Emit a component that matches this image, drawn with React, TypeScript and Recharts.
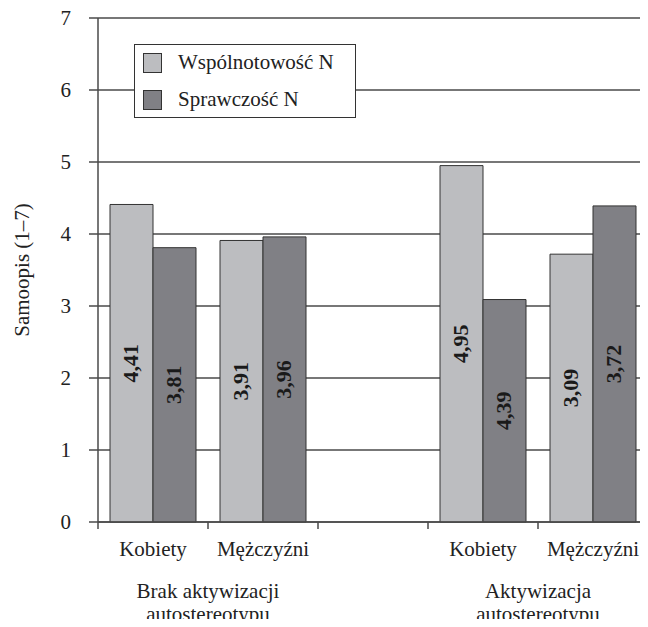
import React from 'react';
import { BarChart, Bar, XAxis, YAxis, CartesianGrid, Legend, LabelList } from 'recharts';

const categories = ['Kobiety', 'Mężczyźni', '', 'Kobiety', 'Mężczyźni'];
const groupLabels: (string[] | null)[] = [null, ['Brak aktywizacji', 'autostereotypu'], null, null, ['Aktywizacja', 'autostereotypu']];
const wspolnotowosc = [4.41, 3.91, null, 4.95, 3.72];
const sprawczosc = [3.81, 3.96, null, 3.09, 4.39];
const wspolLabels = ['4,41', '3,91', '', '4,95', '3,09'];
const sprawLabels = ['3,81', '3,96', '', '4,39', '3,72'];
const yTicks = [0, 1, 2, 3, 4, 5, 6, 7];
const seriesNames = ['Wspólnotowość N', 'Sprawczość N'];

const FONT = 'serif';
const FS = 21;
const W = 648;
const H = 627;
const PLOT_LEFT = 98;
const LIGHT = '#bcbdc0';
const DARK = '#808085';
const LINE = '#4a4a4a';

const data = categories.map((c, i) => ({
  name: c,
  w: wspolnotowosc[i],
  s: sprawczosc[i],
  wl: wspolLabels[i],
  sl: sprawLabels[i],
}));

const bandW = (W - PLOT_LEFT) / categories.length;

const XTick = (p: any) => {
  const g = groupLabels[p.index];
  const bx = p.x - bandW / 2;
  return (
    <g>
      <line x1={bx} x2={bx} y1={p.y} y2={p.y + 7} stroke={LINE} strokeWidth={1.5} />
      <text x={p.x} y={p.y + 34} textAnchor="middle" fontFamily={FONT} fontSize={FS} fill="#222">
        {p.payload.value}
      </text>
      {g && g.map((t, k) => (
        <text key={k} x={bx} y={p.y + 76 + k * 23} textAnchor="middle" fontFamily={FONT} fontSize={FS} fill="#222">
          {t}
        </text>
      ))}
    </g>
  );
};

const BarLabel = (props: any) => {
  const { x, y, width, height, value } = props;
  if (!value) return null;
  const cx = x + width / 2;
  const cy = y + height / 2;
  return (
    <text
      x={cx}
      y={cy + 7}
      transform={`rotate(-90 ${cx} ${cy})`}
      textAnchor="middle"
      fontFamily={FONT}
      fontWeight="bold"
      fontSize={22}
      fill="#1a1a1a"
    >
      {value}
    </text>
  );
};

const LegendBox = () => (
  <div
    style={{
      width: 222,
      height: 74,
      boxSizing: 'border-box',
      border: '1.5px solid #333',
      background: '#fff',
      position: 'relative',
      fontFamily: FONT,
      fontSize: FS,
      color: '#222',
    }}
  >
    {seriesNames.map((n, i) => (
      <div key={n} style={{ position: 'absolute', left: 8, top: 7 + i * 37, height: 21, display: 'flex', alignItems: 'center' }}>
        <div style={{ width: 19, height: 20, boxSizing: 'border-box', border: '1px solid #333', background: i === 0 ? LIGHT : DARK }} />
        <span style={{ marginLeft: 16, lineHeight: '21px', whiteSpace: 'nowrap' }}>{n}</span>
      </div>
    ))}
  </div>
);

const YLabel = (p: any) => {
  const vb = p.viewBox || { y: 18, height: 504 };
  const cx = 22;
  const cy = vb.y + vb.height / 2;
  return (
    <text
      x={cx}
      y={cy + 7}
      transform={`rotate(-90 ${cx} ${cy})`}
      textAnchor="middle"
      fontFamily={FONT}
      fontSize={FS}
      fill="#222"
    >
      Samoopis (1–7)
    </text>
  );
};

export default function App() {
  return (
    <div style={{ margin: -8, width: W, height: H, background: '#fff', fontFamily: FONT }}>
      <BarChart
        width={W}
        height={H}
        data={data}
        margin={{ top: 18, right: 0, bottom: 0, left: 0 }}
        barCategoryGap={12}
        barGap={0}
      >
        <CartesianGrid horizontal vertical={false} stroke={LINE} strokeWidth={1.5} />
        <XAxis
          dataKey="name"
          height={105}
          tickLine={false}
          tickSize={0}
          tickMargin={0}
          axisLine={{ stroke: LINE, strokeWidth: 1.5 }}
          tick={<XTick />}
          interval={0}
        />
        <YAxis
          width={PLOT_LEFT}
          domain={[0, 7]}
          ticks={yTicks}
          interval={0}
          tickSize={9}
          tickMargin={18}
          tickLine={{ stroke: LINE, strokeWidth: 1.5 }}
          axisLine={{ stroke: LINE, strokeWidth: 1.5 }}
          tick={{ fontFamily: FONT, fontSize: FS, fill: '#222' }}
          label={<YLabel />}
        />
        <Legend
          layout="vertical"
          align="center"
          verticalAlign="middle"
          content={<LegendBox />}
          wrapperStyle={{ left: 134, top: 44, width: 222, height: 74 }}
        />
        <Bar dataKey="w" name={seriesNames[0]} fill={LIGHT} stroke="#333" strokeWidth={1} isAnimationActive={false}>
          <LabelList dataKey="wl" content={<BarLabel />} />
        </Bar>
        <Bar dataKey="s" name={seriesNames[1]} fill={DARK} stroke="#333" strokeWidth={1} isAnimationActive={false}>
          <LabelList dataKey="sl" content={<BarLabel />} />
        </Bar>
      </BarChart>
    </div>
  );
}
